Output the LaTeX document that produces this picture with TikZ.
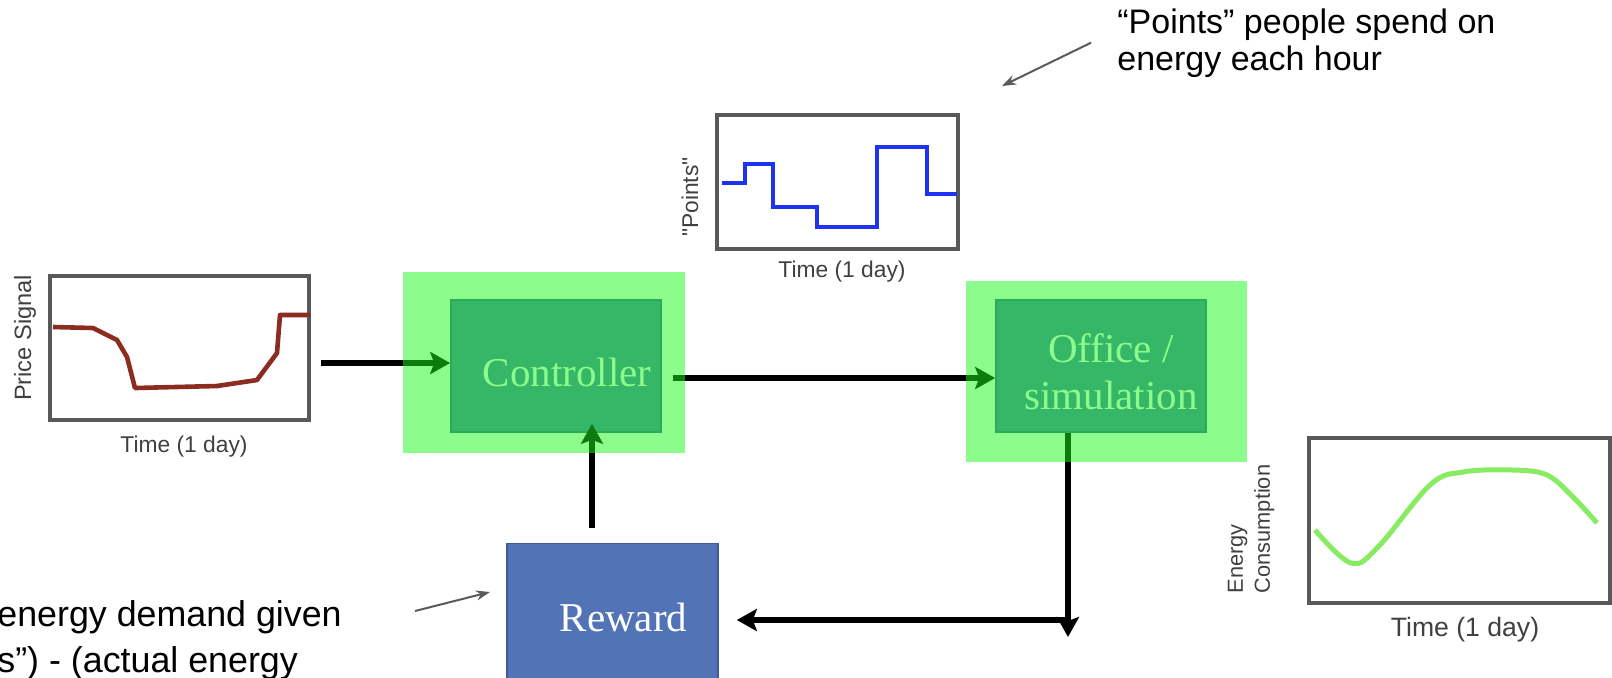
\documentclass[tikz,border=0pt]{standalone}
\usepackage{fontspec}
\setmainfont{Liberation Serif}
\setsansfont{Liberation Sans}
\usetikzlibrary{arrows.meta, calc}

\definecolor{blockblue}{HTML}{5274B6}
\definecolor{blockedge}{HTML}{3F5C99}
\definecolor{glowgreen}{RGB}{25,250,25}
\definecolor{framegray}{HTML}{595959}
\definecolor{pricered}{HTML}{8C2B20}
\definecolor{pointsblue}{HTML}{1E33F2}
\definecolor{usegreen}{HTML}{88EC62}
\definecolor{notegray}{HTML}{5A5A5A}

\begin{document}
\begin{tikzpicture}[x=0.5pt, y=-0.5pt,
  chart/.style={draw=framegray, line width=2pt, rectangle, inner sep=0pt},
  axislabel/.style={font=\sffamily\fontsize{11.4}{13.5}\selectfont, text=black!75, inner sep=0pt},
  block/.style={draw=blockedge, line width=0.8pt, fill=blockblue, inner sep=0pt,
    minimum width=105pt, minimum height=66pt},
  blocktext/.style={font=\fontsize{20.5}{23.5}\selectfont, text=white, align=center, inner sep=0pt},
  flow/.style={line width=3pt, -{Stealth[length=10pt, width=11pt, inset=2pt]}},
  glow/.style={fill=glowgreen, fill opacity=0.5},
  note/.style={font=\sffamily\fontsize{17}{18.5}\selectfont, align=left, inner sep=0pt},
  pointer/.style={draw=notegray, line width=1pt, -{Stealth[length=7pt, width=5pt]}}]
  \useasboundingbox (0,0) rectangle (1612,677);

  % price signal chart
  \node[chart, minimum width=129.5pt, minimum height=72pt] (pricechart) at (179.5,348) {};
  \draw[pricered, line width=2.3pt, line join=round]
    (53,327) -- (93,328) -- (117,340) -- (127,357) -- (135,388) -- (217,386)
    -- (257,380) -- (277,353) -- (280,315) -- (310,315);
  \node[axislabel, rotate=90, font=\sffamily\fontsize{11.8}{13.5}\selectfont] (pricelabel) at (25,338) {Price Signal};
  \node[axislabel] (pricetime) at (184,447) {Time (1 day)};

  % points chart
  \node[chart, minimum width=120.5pt, minimum height=67pt] (pointschart) at (837.5,182) {};
  \draw[pointsblue, line width=2pt]
    (722,183) -- (745,183) -- (745,164) -- (773,164) -- (773,207) -- (817,207)
    -- (817,227) -- (877,227) -- (877,147) -- (927,147) -- (927,194) -- (957,194);
  \node[axislabel, rotate=90] (pointslabel) at (690,197) {\textquotedbl Points\textquotedbl};
  \node[axislabel] (pointstime) at (842,272) {Time (1 day)};

  % energy consumption chart
  \node[chart, minimum width=150.5pt, minimum height=82.5pt] (usechart) at (1459.5,520.5) {};
  \draw[usegreen, line width=2.5pt] plot[smooth, tension=0.6] coordinates {
    (1315,530) (1351,563) (1378,547) (1430,485) (1463,472) (1513,470)
    (1547,475) (1573,497) (1597,523)};
  \node[axislabel, rotate=90, align=left, font=\sffamily\fontsize{10.9}{13.5}\selectfont]
    (uselabel) at (1251,529) {Energy\\Consumption};
  \node[axislabel, font=\sffamily\fontsize{13.3}{15}\selectfont] (usetime) at (1465,630) {Time (1 day)};

  % blocks
  \node[block] (ctrl) at (556,366) {};
  \node[block] (office) at (1101,366) {};
  \node[block, minimum width=105.5pt, minimum height=76.5pt] (reward) at (612.5,620) {};
  \node[blocktext] (ctrltext) at ([shift={(11,6)}]ctrl.center) {Controller};
  \node[blocktext] (officetext) at ([shift={(10,6)}]office.center) {Office /\\simulation};
  \node[blocktext] (rewardtext) at ([shift={(11,-3)}]reward.center) {Reward};

  % signal flow
  \coordinate (drop) at (1068,637);
  \coordinate (turn) at (1068,620);
  \draw[flow] ([xshift=5pt,yshift=1.5pt]pricechart.east |- ctrl.west) -- ([yshift=1.5pt]ctrl.west);
  \draw[flow] ([xshift=5.5pt,yshift=-6pt]ctrl.east) -- ([yshift=-6pt]office.west);
  \draw[flow] ([xshift=-10.25pt,yshift=7.25pt]reward.north) -- ([xshift=18pt,yshift=4.5pt]ctrl.south);
  \draw[flow] ([xshift=-16.5pt]office.south) -- (drop);
  \draw[flow] (turn) -- ([xshift=9pt]reward.east |- turn);

  % highlights
  \fill[glow] (403,272) rectangle (685,453);
  \fill[glow] (966,281) rectangle (1247,462);

  % notes
  \node[note, anchor=base west] (pointsnote) at (1117,70) {“Points” people spend on\\energy each hour};
  \coordinate (pointstip) at (1002,86);
  \draw[pointer] ([xshift=-13pt]pointsnote.west) -- (pointstip);

  \node[note, font=\sffamily\fontsize{17.9}{23}\selectfont, anchor=base west]
    (rewardnote) at (-3,672) {energy demand given\\s”) - (actual energy};
  \coordinate (rewardtail) at (415,611);
  \coordinate (rewardtip) at (490,592);
  \draw[pointer] (rewardtail) -- (rewardtip);
\end{tikzpicture}
\end{document}
